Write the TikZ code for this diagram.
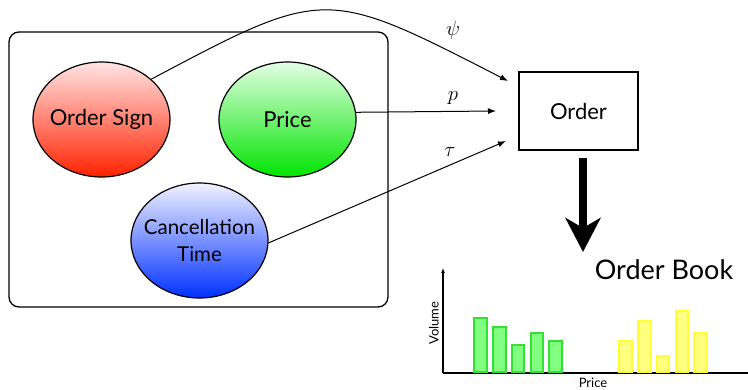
\documentclass[tikz,border=0pt]{standalone}
\usepackage{fontspec}
\setmainfont{Lato}
\usetikzlibrary{shapes.geometric,arrows.meta,calc}
\definecolor{redtop}{HTML}{FFE4E4}
\definecolor{redbot}{HTML}{FF2200}
\definecolor{greentop}{HTML}{E4FFE4}
\definecolor{greenbot}{HTML}{00E400}
\definecolor{bluetop}{HTML}{F2F2FF}
\definecolor{bluebot}{HTML}{0030FF}
\definecolor{gbarfill}{HTML}{80FF80}
\definecolor{gbardraw}{HTML}{33E033}
\definecolor{ybarfill}{HTML}{FFFF80}
\definecolor{ybardraw}{HTML}{FFFF33}
\begin{document}
\begin{tikzpicture}[x=1pt,y=-1pt,
  blob/.style={ellipse, draw=black, line width=1.2pt, minimum width=137pt,
    minimum height=115pt, inner sep=0pt},
  blobtext/.style={align=center, font=\fontsize{22}{27}\selectfont, inner sep=0pt},
  conn/.style={line width=1pt, -{Latex[length=8pt,width=6pt]}},
  lab/.style={font=\fontsize{21}{21}\selectfont},
  gbar/.style={fill=gbarfill, draw=gbardraw, line width=1.5pt},
  ybar/.style={fill=ybarfill, draw=ybardraw, line width=1.5pt},
  axis/.style={line width=1.5pt},
  small/.style={font=\fontsize{13}{13}\selectfont}
]
\useasboundingbox (0,0) rectangle (748,390);
\node (frame) [draw, rounded corners=10pt, line width=1.3pt, minimum width=379pt,
  minimum height=275pt, inner sep=0pt] at (198.5,169.5) {};
\node (os) [blob, top color=redtop, bottom color=redbot] at (101.5,119.5) {};
\node (pr) [blob, top color=greentop, bottom color=greenbot] at (287.5,119.5) {};
\node (ct) [blob, top color=bluetop, bottom color=bluebot] at (199.5,240.5) {};
\node (ost) [blobtext] at (os) {Order Sign};
\node (prt) [blobtext] at (pr) {Price};
\node (ctt) [blobtext, font=\fontsize{20.5}{27}\selectfont] at (ct) {Cancellation\\Time};
\node (order) [draw, line width=1.2pt, minimum width=119pt, minimum height=78pt,
  font=\fontsize{22}{27}\selectfont] at (578.5,111) {Order};
\coordinate (psiend) at (508,81);
\coordinate (pend) at (496,111);
\coordinate (tauend) at (506,141);
\draw[conn] (os.39) .. controls (325,-13) and (325,-13) .. (psiend);
\draw[conn] (pr.6) -- (pend);
\draw[conn] (ct.-2) -- (tauend);
\node (psi) [lab] at (453,30) {$\psi$};
\node (p) [lab] at (453,98) {$p$};
\node (tau) [lab] at (450,152) {$\tau$};
\coordinate (bigstart) at (583,158);
\coordinate (bigend) at (583,252);
\draw[line width=8pt, -{Stealth[length=34pt,width=35pt,inset=10pt]}] (bigstart) -- (bigend);
\node (book) [font=\fontsize{27}{27}\selectfont] at (664,270) {Order Book};
% chart
\coordinate (orig) at (443,373);
\coordinate (ytop) at (443,268);
\coordinate (xend) at (748,373);
\draw[axis] (orig) -- (xend);
\draw[axis, -{Latex[length=5pt,width=4pt]}] (orig) -- (ytop);
\node (vol) [rotate=90, small] at (434,323) {Volume};
\node (prc) [small] at (593,383) {Price};
\draw[gbar] (474,372) rectangle (487,318);
\draw[gbar] (493,372) rectangle (506,327);
\draw[gbar] (512,372) rectangle (524,345);
\draw[gbar] (531,372) rectangle (543,333);
\draw[gbar] (549,372) rectangle (562,341);
\draw[ybar] (619,372) rectangle (632,341);
\draw[ybar] (638,372) rectangle (651,321);
\draw[ybar] (657,372) rectangle (669,356);
\draw[ybar] (676,372) rectangle (688,311);
\draw[ybar] (694,372) rectangle (707,333);
\end{tikzpicture}
\end{document}
